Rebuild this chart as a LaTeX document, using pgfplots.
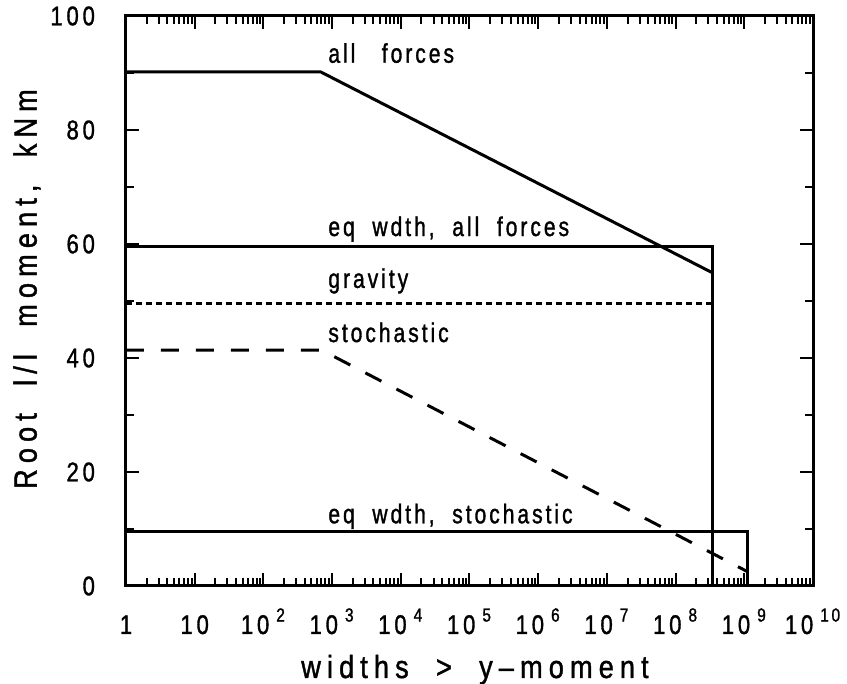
\documentclass[border=0pt]{standalone}
\usepackage{fontspec}
\setmainfont{Liberation Sans}[FakeStretch=0.78, LetterSpace=11, FakeBold=1.2]
\newfontfamily\tickfont{Liberation Sans}[FakeStretch=0.82, LetterSpace=14, FakeBold=1.2]
\newfontfamily\labfont{Liberation Sans}[FakeStretch=0.85, LetterSpace=19, FakeBold=1.2]
\newcommand{\tp}[1]{10\hspace{3.5pt}\raisebox{1pt}{\textsuperscript{#1}}}
\usepackage{pgfplots}
\pgfplotsset{compat=1.18}
\begin{document}
\begin{tikzpicture}
\useasboundingbox (-63pt,-49pt) rectangle (360.5pt,293pt);
\begin{axis}[
  scale only axis, width=343.5pt, height=285pt,
  xmode=log, xmin=1, xmax=1e10, ymin=0, ymax=100,
  xtick={1,10,100,1e3,1e4,1e5,1e6,1e7,1e8,1e9,1e10},
  xticklabels={1,10,\tp{2},\tp{3},\tp{4},\tp{5},\tp{6},\tp{7},\tp{8},\tp{9},\tp{10}},
  minor xtick={2,3,4,5,6,7,8,9,
    20,30,40,50,60,70,80,90,
    200,300,400,500,600,700,800,900,
    2e3,3e3,4e3,5e3,6e3,7e3,8e3,9e3,
    2e4,3e4,4e4,5e4,6e4,7e4,8e4,9e4,
    2e5,3e5,4e5,5e5,6e5,7e5,8e5,9e5,
    2e6,3e6,4e6,5e6,6e6,7e6,8e6,9e6,
    2e7,3e7,4e7,5e7,6e7,7e7,8e7,9e7,
    2e8,3e8,4e8,5e8,6e8,7e8,8e8,9e8,
    2e9,3e9,4e9,5e9,6e9,7e9,8e9,9e9},
  ytick={0,20,40,60,80,100}, minor ytick={10,30,50,70,90},
  yticklabels={0,20,40,60,80,100},
  xtick pos=both, ytick pos=both, tick align=inside,
  major tick length=6.5pt, minor tick length=4pt,
  axis line style={line width=1.5pt},
  tick style={black, line width=1pt},
  xticklabel style={anchor=base, yshift=-24pt, font=\tickfont\fontsize{13.5}{15}\selectfont},
  yticklabel style={anchor=east, xshift=-12pt, font=\tickfont\fontsize{13.5}{15}\selectfont},
  xlabel={\labfont widths\ \ >\ \ y–moment},
  xlabel style={at={(axis description cs:0.508,0)}, anchor=base, yshift=-46pt, font=\fontsize{16}{18}\selectfont},
  ylabel={\labfont Root\ \ l/l\ \ moment,\ \ kNm},
  ylabel style={at={(axis description cs:-0.144,0.521)}, anchor=center, font=\fontsize{16}{18}\selectfont},
  clip=false,
]
\addplot[line width=1.5pt] coordinates {(1,90.2) (680,90.2) (3.5e8,54.9)};
\addplot[line width=1.5pt] coordinates {(1,59.6) (3.5e8,59.6) (3.5e8,0)};
\addplot[line width=1.5pt, dash pattern=on 3pt off 2pt] coordinates {(1,49.5) (3.5e8,49.5)};
\addplot[line width=1.5pt, dash pattern=on 9pt off 8.5pt] coordinates {(1,41.4) (700,41.4) (1.08e9,2.6)};
\addplot[line width=1.5pt] coordinates {(1,9.5) (1.1e9,9.5) (1.1e9,0)};
\begin{scope}[every node/.style={anchor=base west, inner sep=0pt, font=\fontsize{13.5}{15}\selectfont}]
\node at (axis cs:871,91.8) {all\ \ \ forces};
\node at (axis cs:871,61.4) {eq\ \ wdth,\ \ all\ \ forces};
\node at (axis cs:871,52.3) {gravity};
\node at (axis cs:871,42.8) {stochastic};
\node at (axis cs:871,11.0) {eq\ \ wdth,\ \ stochastic};
\end{scope}
\end{axis}
\end{tikzpicture}
\end{document}
